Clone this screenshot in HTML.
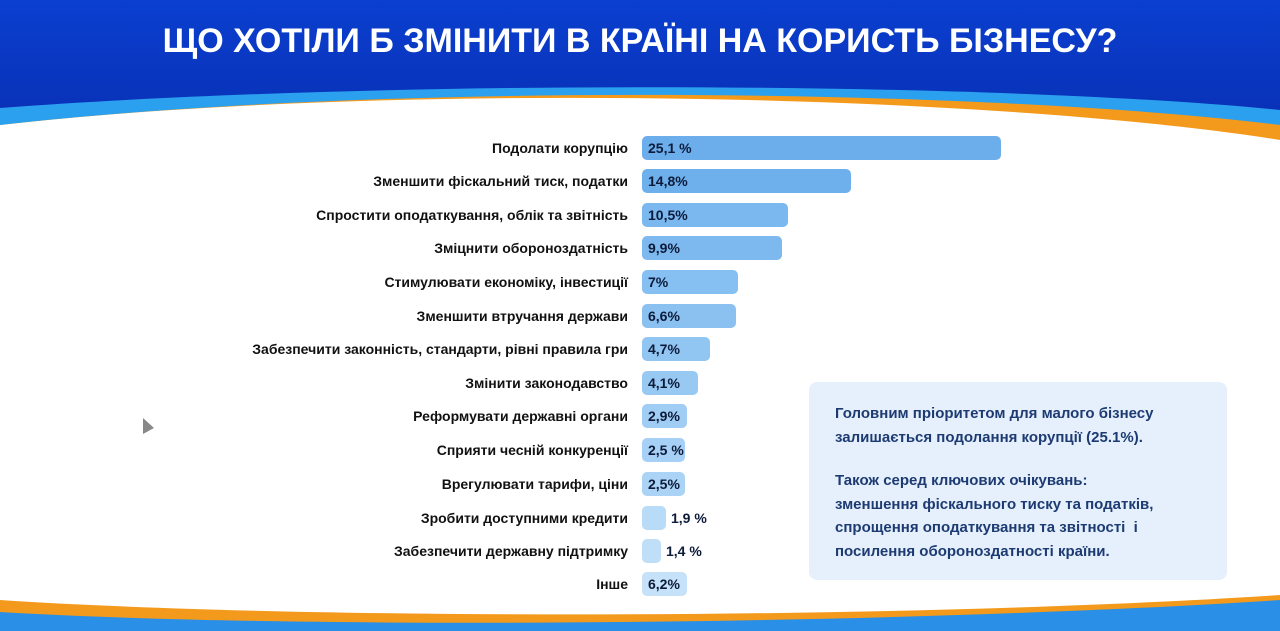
<!DOCTYPE html>
<html><head><meta charset="utf-8"><style>
body{margin:0;width:1280px;height:631px;overflow:hidden;background:#fff;font-family:"Liberation Sans","DejaVu Sans",sans-serif;position:relative}
svg.bg{position:absolute;left:0;top:0}
h1{position:absolute;left:0;width:1280px;top:22px;margin:0;text-align:center;color:#fff;font-size:34px;font-weight:bold;letter-spacing:0px}
.row{position:absolute;left:0;width:1280px;height:24px}
.lab{position:absolute;right:652px;width:500px;text-align:right;font-size:14px;font-weight:bold;color:#111;line-height:24px;white-space:nowrap}
.bar{position:absolute;left:642px;height:24px;border-radius:5px}
.val{position:absolute;left:648px;font-size:14px;font-weight:bold;color:#0d1b3a;line-height:24px;white-space:nowrap}
.box{position:absolute;left:809px;top:382px;width:418px;height:198px;background:#e5f0fc;border-radius:8px}
.box p{position:absolute;left:26px;margin:0;font-size:15px;font-weight:bold;color:#1d3b72;line-height:23.5px}
</style></head><body>
<svg class="bg" width="1280" height="631">
<defs><linearGradient id="g" x1="0" y1="0" x2="0" y2="1"><stop offset="0" stop-color="#0a3fd0"/><stop offset="1" stop-color="#0932b8"/></linearGradient></defs>
<path d="M0 0H1280V140 C1000 95 400 80 0 125Z" fill="#f39a1c"/>
<path d="M0 0H1280V125 C1000 90 400 80 0 125Z" fill="#2aa0ee"/>
<path d="M0 0H1280V110 C1000 82 400 78 0 108Z" fill="url(#g)"/>
<path d="M0 600 C300 620 900 620 1280 595V631H0Z" fill="#f39a1c"/>
<path d="M0 612 C300 630 900 625 1280 600V631H0Z" fill="#2a8fe6"/>
<path d="M143 418 L154 428 L143 434Z" fill="#888"/>
</svg>
<h1>ЩО ХОТІЛИ Б ЗМІНИТИ В КРАЇНІ НА КОРИСТЬ БІЗНЕСУ?</h1>
<div class="row" style="top:136px"><div class="lab">Подолати корупцію</div><div class="bar" style="width:359px;background:#6caeec"></div><div class="val">25,1 %</div></div>
<div class="row" style="top:169px"><div class="lab">Зменшити фіскальний тиск, податки</div><div class="bar" style="width:209px;background:#6eb0ec"></div><div class="val">14,8%</div></div>
<div class="row" style="top:203px"><div class="lab">Спростити оподаткування, облік та звітність</div><div class="bar" style="width:146px;background:#7ab8ef"></div><div class="val">10,5%</div></div>
<div class="row" style="top:236px"><div class="lab">Зміцнити обороноздатність</div><div class="bar" style="width:140px;background:#7db9ef"></div><div class="val">9,9%</div></div>
<div class="row" style="top:270px"><div class="lab">Стимулювати економіку, інвестиції</div><div class="bar" style="width:96px;background:#86bff1"></div><div class="val">7%</div></div>
<div class="row" style="top:304px"><div class="lab">Зменшити втручання держави</div><div class="bar" style="width:94px;background:#8ac1f1"></div><div class="val">6,6%</div></div>
<div class="row" style="top:337px"><div class="lab">Забезпечити законність, стандарти, рівні правила гри</div><div class="bar" style="width:68px;background:#92c6f2"></div><div class="val">4,7%</div></div>
<div class="row" style="top:371px"><div class="lab">Змінити законодавство</div><div class="bar" style="width:56px;background:#98c9f3"></div><div class="val">4,1%</div></div>
<div class="row" style="top:404px"><div class="lab">Реформувати державні органи</div><div class="bar" style="width:45px;background:#a0cdf4"></div><div class="val">2,9%</div></div>
<div class="row" style="top:438px"><div class="lab">Сприяти чесній конкуренції</div><div class="bar" style="width:43px;background:#a6d0f5"></div><div class="val">2,5 %</div></div>
<div class="row" style="top:472px"><div class="lab">Врегулювати тарифи, ціни</div><div class="bar" style="width:43px;background:#aad3f5"></div><div class="val">2,5%</div></div>
<div class="row" style="top:506px"><div class="lab">Зробити доступними кредити</div><div class="bar" style="width:24px;background:#b8dbf7"></div><div class="val" style="left:671px">1,9 %</div></div>
<div class="row" style="top:539px"><div class="lab">Забезпечити державну підтримку</div><div class="bar" style="width:19px;background:#bfdff8"></div><div class="val" style="left:666px">1,4 %</div></div>
<div class="row" style="top:572px"><div class="lab">Інше</div><div class="bar" style="width:45px;background:#c6e2f8"></div><div class="val">6,2%</div></div>
<div class="box">
<p style="top:20px">Головним пріоритетом для малого бізнесу<br>залишається подолання корупції (25.1%).</p>
<p style="top:87px">Також серед ключових очікувань:<br>зменшення фіскального тиску та податків,<br>спрощення оподаткування та звітності &nbsp;і<br>посилення обороноздатності країни.</p>
</div>
</body></html>
